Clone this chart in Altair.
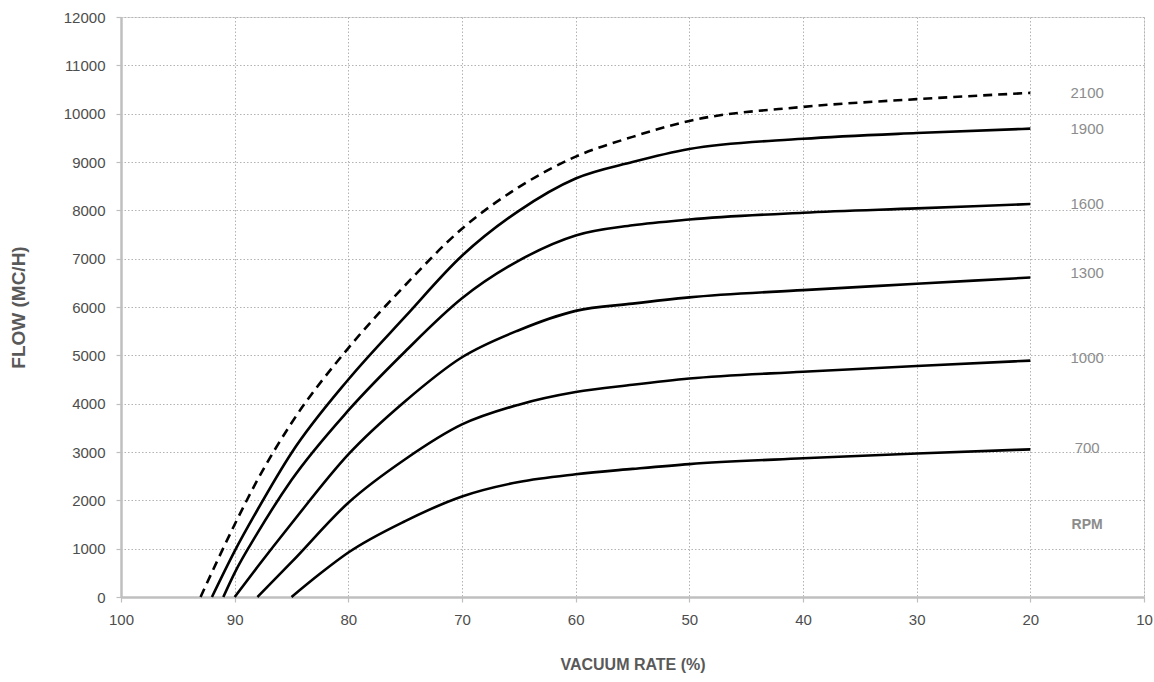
import altair as alt
import pandas as pd

# ---- data ----
rpm_names = ["2100", "1900", "1600", "1300", "1000", "700"]

vac_2100 = [93, 90, 88, 85, 80, 75, 70, 65, 60, 55, 50, 40, 30, 20]
flow_2100 = [0, 1500, 2420, 3600, 5150, 6450, 7620, 8480, 9110, 9520, 9850, 10140, 10300, 10430]

vac_1900 = [92, 90, 88, 85, 80, 75, 70, 65, 60, 55, 50, 40, 30, 20]
flow_1900 = [0, 950, 1800, 2980, 4500, 5800, 7060, 7990, 8660, 9000, 9270, 9480, 9600, 9690]

vac_1600 = [91, 90, 88, 85, 80, 75, 70, 65, 60, 55, 50, 40, 30, 20]
flow_1600 = [0, 500, 1320, 2420, 3860, 5080, 6180, 6960, 7480, 7690, 7810, 7950, 8040, 8130]

vac_1300 = [90, 88, 85, 80, 75, 70, 65, 60, 55, 50, 40, 30, 20]
flow_1300 = [0, 620, 1520, 2950, 4050, 4960, 5520, 5920, 6070, 6200, 6350, 6480, 6610]

vac_1000 = [88, 85, 80, 75, 70, 65, 60, 55, 50, 40, 30, 20]
flow_1000 = [0, 720, 1950, 2850, 3570, 3980, 4240, 4390, 4520, 4660, 4780, 4890]

vac_700 = [85, 82.5, 80, 75, 70, 65, 60, 55, 50, 40, 30, 20]
flow_700 = [0, 480, 920, 1570, 2080, 2380, 2540, 2650, 2750, 2870, 2970, 3055]

label_x = [15, 15, 15, 15, 15, 15]
label_y = [10430, 9680, 8130, 6700, 4950, 3080]
unit_label = ["RPM"]
unit_x = [15]
unit_y = [1500]

x_ticks = [100, 90, 80, 70, 60, 50, 40, 30, 20, 10]
y_ticks = list(range(0, 13000, 1000))

series = {
    "2100": (vac_2100, flow_2100),
    "1900": (vac_1900, flow_1900),
    "1600": (vac_1600, flow_1600),
    "1300": (vac_1300, flow_1300),
    "1000": (vac_1000, flow_1000),
    "700": (vac_700, flow_700),
}

rows = []
for name, (vs, fs) in series.items():
    for v, f in zip(vs, fs):
        rows.append({"vacuum": v, "flow": f, "rpm": name})
df = pd.DataFrame(rows)
solid_df = df[df["rpm"] != "2100"]
dash_df = df[df["rpm"] == "2100"]

labels_df = pd.DataFrame({"x": label_x, "y": label_y, "t": rpm_names})
unit_df = pd.DataFrame({"x": unit_x, "y": unit_y, "t": unit_label})

FONT = "Liberation Sans, Arial, sans-serif"
GRID = "#b3b3b3"
AXIS = "#bfbfbf"

x_scale = alt.Scale(domain=[10, 100], reverse=True, nice=False, zero=False)
y_scale = alt.Scale(domain=[0, 12000], nice=False)

x_axis = alt.Axis(
    values=x_ticks, title="VACUUM RATE (%)", grid=True, gridDash=[1.5, 2], gridColor=GRID,
    gridWidth=1, domainColor=AXIS, domainWidth=2.5, tickColor=AXIS, tickSize=5, tickWidth=1.2,
    labelFont=FONT, labelFontSize=15, labelColor="#4d4d4d", labelPadding=10, labelFlush=False,
    titleFont=FONT, titleFontSize=16, titleFontWeight="bold", titleColor="#595959",
    titlePadding=29, format="d",
)
y_axis = alt.Axis(
    values=y_ticks, title="FLOW (MC/H)", grid=True, gridDash=[1.5, 2], gridColor=GRID,
    gridWidth=1, domainColor=AXIS, domainWidth=2.5, tickColor=AXIS, tickSize=5, tickWidth=1.2,
    labelFont=FONT, labelFontSize=15, labelColor="#4d4d4d", labelPadding=11, labelFlush=False,
    titleFont=FONT, titleFontSize=19, titleFontWeight="bold", titleColor="#595959",
    titlePadding=35, format="d",
)

solid = alt.Chart(solid_df).mark_line(color="black", strokeWidth=2.6, interpolate="monotone").encode(
    x=alt.X("vacuum:Q", scale=x_scale, axis=x_axis),
    y=alt.Y("flow:Q", scale=y_scale, axis=y_axis),
    detail="rpm:N",
)
dashed = alt.Chart(dash_df).mark_line(color="black", strokeWidth=2.6, strokeDash=[9, 6],
                                      interpolate="monotone").encode(
    x=alt.X("vacuum:Q", scale=x_scale),
    y=alt.Y("flow:Q", scale=y_scale),
)
labels = alt.Chart(labels_df).mark_text(font=FONT, fontSize=15, color="#8c8c8c",
                                        align="center", baseline="middle").encode(
    x=alt.X("x:Q", scale=x_scale), y=alt.Y("y:Q", scale=y_scale), text="t:N",
)
unit = alt.Chart(unit_df).mark_text(font=FONT, fontSize=14, fontWeight="bold", color="#8c8c8c",
                                    align="center", baseline="middle").encode(
    x=alt.X("x:Q", scale=x_scale), y=alt.Y("y:Q", scale=y_scale), text="t:N",
)

chart = alt.layer(solid, dashed, labels, unit).properties(
    width=1023, height=580,
    autosize=alt.AutoSizeParams(type="none"),
    padding={"left": 121, "top": 17, "right": 10, "bottom": 85},
).configure_view(stroke=None).configure(background="white")

chart.save("out.html", embed_options={"renderer": "svg", "actions": False})
